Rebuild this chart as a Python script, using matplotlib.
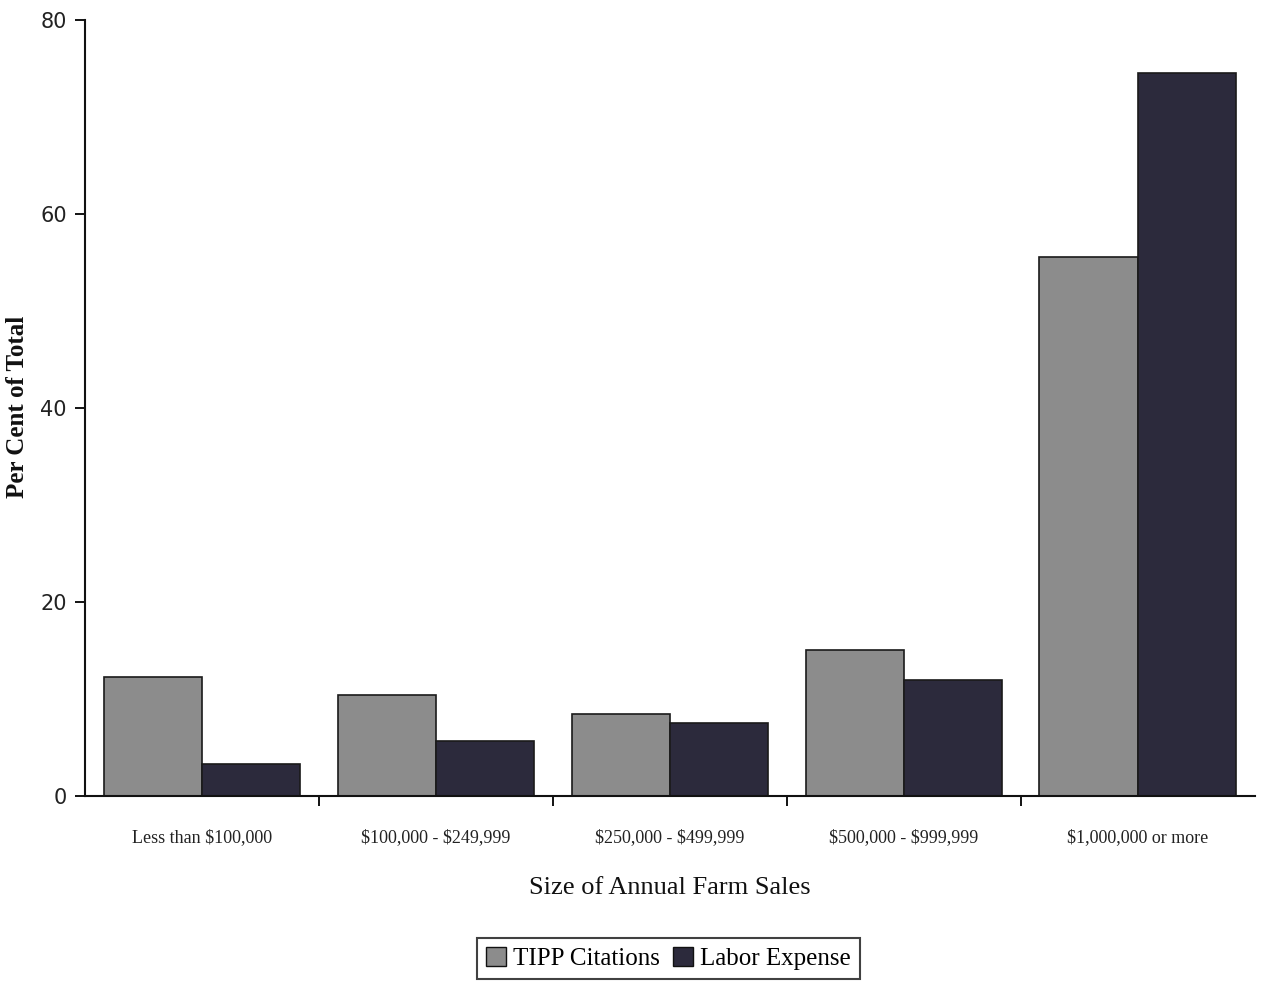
import matplotlib
matplotlib.use("Agg")
import matplotlib.pyplot as plt
import numpy as np
from matplotlib.patches import Patch

plt.rcParams["text.parse_math"] = False

categories = ["Less than $100,000", "$100,000 - $249,999", "$250,000 - $499,999",
              "$500,000 - $999,999", "$1,000,000 or more"]
tipp_citations = [12.3, 10.4, 8.5, 15.1, 55.6]
labor_expense = [3.3, 5.7, 7.5, 12.0, 74.5]
yticks = [0, 20, 40, 60, 80]

serif = ["Liberation Serif", "DejaVu Serif"]
sans = ["DejaVu Sans"]

fig = plt.figure(figsize=(12.61, 9.91), dpi=100)
ax = fig.add_axes([0.0674, 0.1968, 0.9276, 0.783])

x = np.arange(len(categories))
w = 0.42
tipp_color = "#8c8c8c"
labor_color = "#2c2a3c"
ax.bar(x - w / 2, tipp_citations, width=w, color=tipp_color,
       edgecolor="#1a1a1a", linewidth=1.2, zorder=2)
ax.bar(x + w / 2, labor_expense, width=w, color=labor_color,
       edgecolor="#1a1a1a", linewidth=1.2, zorder=2)

ax.set_xlim(-0.5, len(categories) - 0.5)
ax.set_ylim(0, 80)

for side in ("top", "right"):
    ax.spines[side].set_visible(False)
for side in ("left", "bottom"):
    ax.spines[side].set_linewidth(1.5)
    ax.spines[side].set_color("#111111")

ax.set_yticks(yticks)
ax.set_yticklabels([str(v) for v in yticks], fontsize=15, family=sans, color="#222222")
ax.tick_params(axis="y", direction="out", length=7, width=1.3, pad=6)

# group separators as ticks, category labels centered without ticks
ax.set_xticks(np.arange(len(categories) - 1) + 0.5)
ax.set_xticklabels([])
ax.set_xticks(x, minor=True)
ax.set_xticklabels(categories, minor=True, fontsize=13, family=serif, color="#222222")
ax.tick_params(axis="x", which="major", direction="out", length=7, width=1.3)
ax.tick_params(axis="x", which="minor", length=0, pad=24)

ax.set_xlabel("Size of Annual Farm Sales", fontsize=19, family=serif,
              color="#111111", labelpad=22)
fig.text(0.0135, 0.589, "Per Cent of Total", rotation=90, ha="center", va="center",
         fontsize=18, family=serif, fontweight="bold", color="#111111")

handles = [Patch(facecolor=tipp_color, edgecolor="#111111", label="TIPP Citations"),
           Patch(facecolor=labor_color, edgecolor="#111111", label="Labor Expense")]
leg = fig.legend(handles=handles, loc="center", bbox_to_anchor=(0.530, 0.0325),
                 ncol=2, frameon=True, fancybox=False,
                 prop={"family": serif, "size": 18}, handlelength=0.8, handleheight=0.8,
                 handletextpad=0.3, columnspacing=0.5, borderpad=0.35)
leg.get_frame().set_edgecolor("#111111")
leg.get_frame().set_linewidth(1.5)

fig.savefig("out.png", dpi=100, facecolor="white")
